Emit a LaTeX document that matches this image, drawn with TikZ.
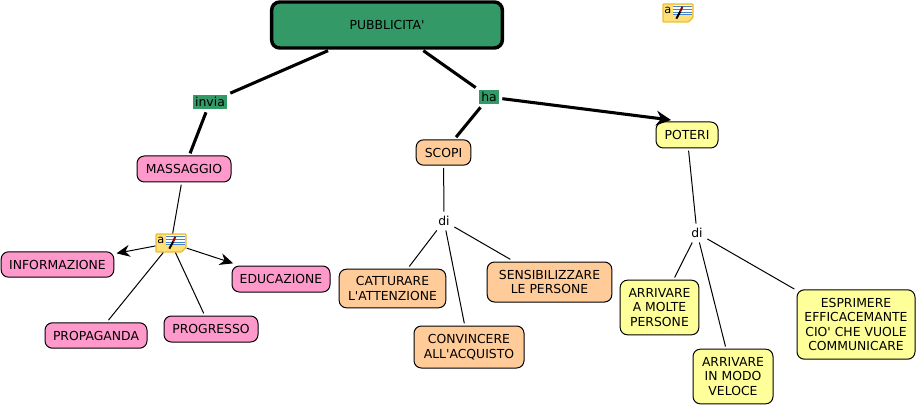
\documentclass[tikz,border=0pt]{standalone}
\usepackage{fontspec}
\setmainfont{DejaVu Sans}
\newfontfamily\conceptfont{DejaVu Sans}
\usetikzlibrary{arrows.meta, calc}
\definecolor{topgreen}{RGB}{51,153,102}
\definecolor{rosebox}{RGB}{255,153,204}
\definecolor{peachbox}{RGB}{255,204,153}
\definecolor{yellowbox}{RGB}{255,255,153}
\definecolor{iconfill}{RGB}{255,224,120}
\definecolor{iconline}{RGB}{236,190,50}
\definecolor{iconblue}{RGB}{70,130,200}
\tikzset{
    concept/.style={draw=black, line width=0.75pt, rounded corners=5.5pt, align=center, inner sep=0pt, outer sep=2pt, font=\conceptfont\fontsize{9.3pt}{10.8pt}\selectfont},
    rosenode/.style={concept, fill=rosebox},
    peachnode/.style={concept, fill=peachbox},
    yellownode/.style={concept, fill=yellowbox},
    greenlabel/.style={fill=topgreen, inner sep=0pt, outer sep=2.5pt, minimum height=10.5pt, font=\conceptfont\fontsize{9.3pt}{10pt}\selectfont},
    whitelabel/.style={fill=white, inner sep=1pt, outer sep=2.5pt, font=\conceptfont\fontsize{9.3pt}{10pt}\selectfont},
    notecard/.style={minimum width=22.5pt, minimum height=13.5pt, inner sep=0pt, outer sep=0.5pt},
    thickline/.style={line width=2.3pt, black},
    thinline/.style={line width=0.75pt, black},
}
% small note icon, #1 = node name, #2 = position
\newcommand{\noteicon}[2]{
    \node[notecard] (#1) at (#2) {};
    \draw[iconline, line width=1pt, fill=iconfill, rounded corners=0.6pt]
        ($(#1.south west)+(0.5pt,0.5pt)$) -- ($(#1.north west)+(0.5pt,-0.5pt)$) -- ($(#1.north east)+(-0.5pt,-0.5pt)$)
        -- ($(#1.south east)+(-0.5pt,4pt)$) -- ($(#1.south east)+(-4pt,0.5pt)$) -- cycle;
    \fill[white] ($(#1.north west)+(8pt,-1.5pt)$) rectangle ($(#1.north east)+(-1.5pt,-9pt)$);
    \foreach \k in {2.5,4.5,6.5,8.5}
        \draw[iconblue, line width=0.6pt] ($(#1.north west)+(8pt,-\k pt)$) -- ($(#1.north east)+(-1.5pt,-\k pt)$);
    \draw[black, line width=1.5pt] ($(#1.north west)+(10.5pt,-11.5pt)$) -- ($(#1.north west)+(13.5pt,-6pt)$);
    \draw[red!60!black, line width=1.5pt] ($(#1.north west)+(13.5pt,-6pt)$) -- ($(#1.north west)+(15pt,-2.5pt)$);
    \node[inner sep=0pt, font=\conceptfont\fontsize{8.5pt}{9pt}\selectfont] at ($(#1.north west)+(4.2pt,-5.5pt)$) {a};
}

\begin{document}
\begin{tikzpicture}[x=0.75pt, y=-0.75pt]
    \useasboundingbox (0,0) rectangle (917,406);

    \node[concept, fill=topgreen, line width=2.6pt, rounded corners=6pt, minimum width=173pt, minimum height=34.5pt] (pubblicita) at (387,25) {PUBBLICITA'};

    \node[greenlabel, minimum width=25.5pt] (invia) at (210,102) {invia};
    \node[greenlabel, minimum width=15pt] (ha) at (489,97) {ha};
    \node[whitelabel] (discopi) at (444,221) {di};
    \node[whitelabel] (dipoteri) at (697,233) {di};

    \node[rosenode, minimum width=70.5pt, minimum height=19.5pt] (massaggio) at (184,169) {MASSAGGIO};
    \node[rosenode, minimum width=84.5pt, minimum height=19pt] (informazione) at (57.5,264.5) {INFORMAZIONE};
    \node[rosenode, minimum width=73.5pt, minimum height=19.5pt] (educazione) at (281,279) {EDUCAZIONE};
    \node[rosenode, minimum width=76.5pt, minimum height=19pt] (propaganda) at (96,335.5) {PROPAGANDA};
    \node[rosenode, minimum width=70.5pt, minimum height=19.5pt] (progresso) at (211,329) {PROGRESSO};

    \node[peachnode, minimum width=41pt, minimum height=19pt] (scopi) at (443.5,152.5) {SCOPI};
    \node[peachnode, minimum width=80pt, minimum height=29pt] (catturare) at (392.5,288.5) {CATTURARE\\L'ATTENZIONE};
    \node[peachnode, minimum width=82.5pt, minimum height=31.5pt] (convincere) at (469,347) {CONVINCERE\\ALL'ACQUISTO};
    \node[peachnode, minimum width=93.5pt, minimum height=30pt] (sensibilizzare) at (549.5,282) {SENSIBILIZZARE\\LE PERSONE};

    \node[yellownode, minimum width=46.5pt, minimum height=19.5pt] (poteri) at (687,135) {POTERI};
    \node[yellownode, minimum width=59pt, minimum height=41pt] (molte) at (659.5,307.5) {ARRIVARE\\A MOLTE\\PERSONE};
    \node[yellownode, minimum width=60pt, minimum height=41pt] (veloce) at (733,376.5) {ARRIVARE\\IN MODO\\VELOCE};
    \node[yellownode, minimum width=88.5pt, minimum height=52pt] (esprimere) at (856,324.5) {ESPRIMERE\\EFFICACEMANTE\\CIO' CHE VUOLE\\COMMUNICARE};

    \noteicon{noteone}{171,243}
    \noteicon{notetwo}{678,13}

    \coordinate (poteritop) at (671,120);% arrow stops short of the box centre

    \draw[thickline] (pubblicita)--(invia);
    \draw[thickline] (invia)--(massaggio);
    \draw[thickline] (pubblicita)--(ha);
    \draw[thickline] (ha)--(scopi);
    \draw[thickline, -{Stealth[length=11pt, width=11pt]}] (ha)--(poteritop);

    \draw[thinline] (massaggio)--(noteone);
    \draw[thinline, -{Stealth[length=10pt, width=9pt]}] (noteone)--(informazione);
    \draw[thinline, -{Stealth[length=10pt, width=9pt]}] (noteone)--(educazione);
    \draw[thinline] (noteone)--(propaganda);
    \draw[thinline] (noteone)--(progresso);

    \draw[thinline] (scopi)--(discopi);
    \draw[thinline] (discopi)--(catturare);
    \draw[thinline] (discopi)--(convincere);
    \draw[thinline] (discopi)--(sensibilizzare);

    \draw[thinline] (poteri)--(dipoteri);
    \draw[thinline] (dipoteri)--(molte);
    \draw[thinline] (dipoteri)--(veloce);
    \draw[thinline] (dipoteri)--(esprimere);
\end{tikzpicture}
\end{document}
